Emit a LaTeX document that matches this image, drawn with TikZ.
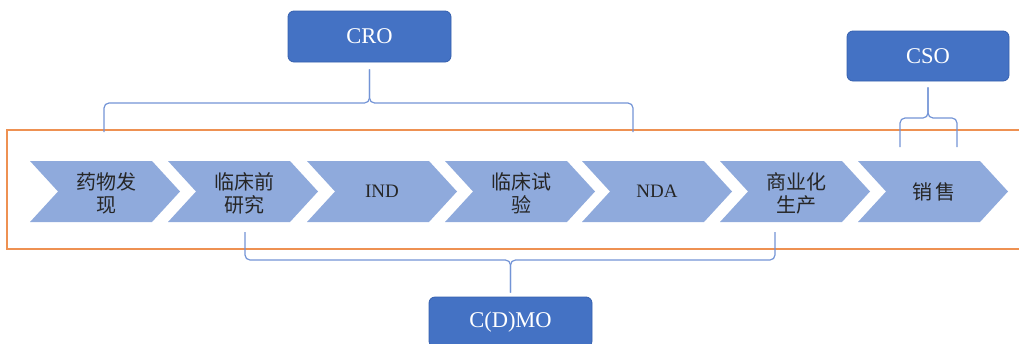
\documentclass[tikz,border=0pt]{standalone}
\usepackage{fontspec}
\setmainfont{Liberation Serif}
\newfontfamily\cjk{Noto Sans CJK SC}
\definecolor{chevfill}{HTML}{8FAADC}
\definecolor{boxblue}{HTML}{4472C4}
\definecolor{boxedge}{HTML}{3560AE}
\definecolor{bracecol}{HTML}{7394D6}
\definecolor{framecol}{HTML}{EE9152}
\definecolor{txt}{HTML}{262626}
\tikzset{
  chev/.style={fill=chevfill, draw=none},
  cjklabel/.style={text=txt, align=center, font=\cjk\fontsize{20}{23}\selectfont, inner sep=0pt},
  latlabel/.style={text=txt, align=center, font=\fontsize{19}{23}\selectfont, inner sep=0pt},
  rolebox/.style={rounded corners=6pt, fill=boxblue, draw=boxedge, line width=0.8pt, text=white,
    minimum width=163pt, minimum height=51pt, inner sep=0pt, font=\fontsize{22.5}{27}\selectfont},
  brace/.style={draw=bracecol, line width=1.2pt, rounded corners=5pt},
  frame/.style={draw=framecol, line width=1.2pt}
}
\begin{document}
\begin{tikzpicture}[x=1pt,y=-1pt]
\useasboundingbox (0,0) rectangle (1019,343);
\clip (0,0) rectangle (1019,343);
% orange frame
\draw[frame] (7,130) rectangle (1040,249);
% chevrons
\foreach \x in {30,168,307,445,582,720,858}{
  \fill[chev] (\x,161) -- ++(122,0) -- ++(28,30.5) -- ++(-28,30.5) -- ++(-122,0) -- ++(28,-30.5) -- cycle;
}
\node[cjklabel] (c1) at (106,193) {药物发\\现};
\node[cjklabel] (c2) at (244,193) {临床前\\研究};
\node[latlabel] (c3) at (382,191.5) {IND};
\node[cjklabel] (c4) at (521,193) {临床试\\验};
\node[latlabel] (c5) at (657,191.5) {NDA};
\node[cjklabel] (c6) at (796,193) {商业化\\生产};
\node[cjklabel] (c7) at (934,191.5) {销\,售};
% role boxes
\node[rolebox] (cro) at (369.5,36.5) {CRO};
\node[rolebox, minimum width=162pt, minimum height=50pt] (cso) at (928,56) {CSO};
\node[rolebox, minimum height=50pt] (cdmo) at (510.5,322) {C(D)MO};
% braces
\coordinate (croT) at ([yshift=-7pt]cro.south);
\coordinate (croM) at (369.5,103);
\coordinate (croL) at (104,132);
\coordinate (croR) at (633,132);
\draw[brace] (croL) |- (croM) -- (croT);
\draw[brace] (croR) |- (croM) -- (croT);
\coordinate (csoT) at ([yshift=-6pt]cso.south);
\coordinate (csoM) at (928,118);
\coordinate (csoL) at (900,147);
\coordinate (csoR) at (957,147);
\draw[brace] (csoL) |- (csoM) -- (csoT);
\draw[brace] (csoR) |- (csoM) -- (csoT);
\coordinate (cdmoT) at ([yshift=4pt]cdmo.north);
\coordinate (cdmoM) at (510.5,260);
\coordinate (cdmoL) at (245,232);
\coordinate (cdmoR) at (775,232);
\draw[brace] (cdmoL) |- (cdmoM) -- (cdmoT);
\draw[brace] (cdmoR) |- (cdmoM) -- (cdmoT);
\end{tikzpicture}
\end{document}
